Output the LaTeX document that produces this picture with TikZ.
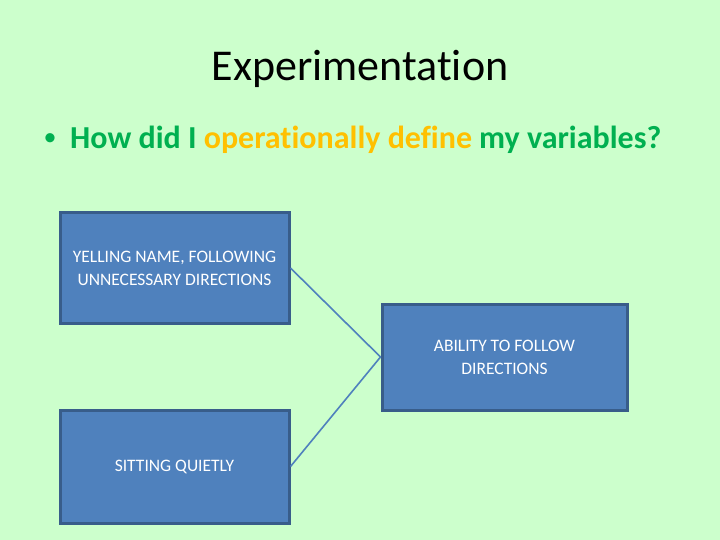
\documentclass[tikz,border=0pt]{standalone}
\usepackage{fontspec}
\setmainfont[Ligatures=NoCommon]{Carlito}
\usepackage{tikz}
\definecolor{slidebg}{HTML}{CCFFCC}
\definecolor{boxfill}{HTML}{4F81BD}
\definecolor{boxline}{HTML}{385D8A}
\definecolor{qgreen}{HTML}{00B050}
\definecolor{qyellow}{HTML}{FFC000}
\tikzset{
varbox/.style={draw=boxline, line width=3pt, fill=boxfill, text=white, align=center, inner sep=0pt, font=\fontsize{17.5}{23}\selectfont},
link/.style={draw=boxfill, line width=1.6pt}
}

\begin{document}
\begin{tikzpicture}[x=1pt,y=-1pt]
\fill[slidebg] (0,0) rectangle (720,540);
\useasboundingbox (0,0) rectangle (720,540);

\node (title) at (360,69) {\fontsize{44}{52}\selectfont Experimentation};
\node[anchor=west, text=qgreen, font=\fontsize{26}{30}\selectfont] (dot) at (40,140) {\textbullet};
\node[anchor=west, inner sep=0pt, text=qgreen, font=\fontsize{32}{36}\selectfont\bfseries] (question) at (70,140)
{How did I \textcolor{qyellow}{operationally define} my variables?};

\node[varbox, minimum width=229pt, minimum height=110pt] (yelling) at (174.5,268)
{YELLING NAME, FOLLOWING\\UNNECESSARY DIRECTIONS};
\node[varbox, minimum width=245pt, minimum height=106pt] (ability) at (504.5,357)
{ABILITY TO FOLLOW\\DIRECTIONS};
\node[varbox, minimum width=229pt, minimum height=113pt] (sitting) at (174.5,466.5)
{SITTING QUIETLY};

\draw[link] (yelling.east) -- (ability.west);
\draw[link] (sitting.east) -- (ability.west);
\end{tikzpicture}
\end{document}
